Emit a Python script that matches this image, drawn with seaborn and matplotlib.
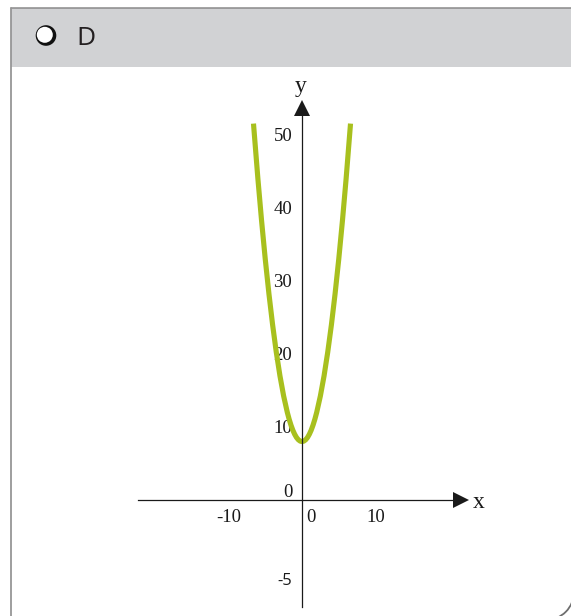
import numpy as np
import matplotlib
matplotlib.use("Agg")
import matplotlib.pyplot as plt
import seaborn as sns
from matplotlib.patches import Rectangle, Circle, Arc
from matplotlib.lines import Line2D

# Parabola sample points (x, y)
curve_x = [-6.6, -6.0, -5.5, -5.0, -4.5, -4.0, -3.5, -3.0, -2.5, -2.0, -1.75, -1.5,
           -1.25, -1.0, -0.75, -0.5, -0.25, 0.0, 0.25, 0.5, 0.75, 1.0, 1.25, 1.5,
           1.75, 2.0, 2.5, 3.0, 3.5, 4.0, 4.5, 5.0, 5.5, 6.0, 6.6]
curve_y = [51.56, 44.0, 38.25, 33.0, 28.25, 24.0, 20.25, 17.0, 14.25, 12.0, 11.06, 10.25,
           9.56, 9.0, 8.56, 8.25, 8.06, 8.0, 8.06, 8.25, 8.56, 9.0, 9.56, 10.25,
           11.06, 12.0, 14.25, 17.0, 20.25, 24.0, 28.25, 33.0, 38.25, 44.0, 51.56]

x_ticks = [-10, 10]
x_tick_labels = ["-10", "10"]
y_ticks = [-5, 10, 20, 30, 40, 50]
y_tick_labels = ["-5", "10", "20", "30", "40", "50"]
option_label = "D"

sns.set_style("white")
plt.rcParams["font.family"] = ["Liberation Serif", "DejaVu Serif"]

W, H = 5.71, 6.16
fig = plt.figure(figsize=(W, H), dpi=100)
T = fig.dpi_scale_trans

# answer-option card: grey header strip and frame
fig.add_artist(Rectangle((0.11, 5.49), 5.70, 0.59, transform=T,
                         fc="#d1d2d4", ec="none", zorder=0.5))
frame_color = "#969696"
fig.add_artist(Line2D([0.11, 5.80], [6.08, 6.08], transform=T,
                      color="#8a8a8a", lw=1.1, zorder=1))
fig.add_artist(Line2D([0.11, 0.11], [-0.05, 6.08], transform=T,
                      color=frame_color, lw=1.3, zorder=1))
fig.add_artist(Arc((5.46, 0.24), 0.56, 0.56, theta1=270, theta2=360,
                   transform=T, color="#6e6e6e", lw=1.3, zorder=1))

# radio button and option letter
fig.add_artist(Circle((0.46, 5.805), 0.103, transform=T, fc="#111111", ec="none", zorder=2))
fig.add_artist(Circle((0.448, 5.812), 0.080, transform=T, fc="white", ec="none", zorder=3))
fig.text(0.765, H - 0.45, option_label, transform=T, fontsize=19,
         family=["Open Sans", "DejaVu Sans"], color="#231f20",
         ha="left", va="baseline")

# coordinate plane
ax = fig.add_axes([138 / 571, 9 / 616, 315 / 571, 491 / 616])
ax.set_facecolor("none")


def fwd(v):
    v = np.asarray(v, dtype=float)
    return np.where(v < 0, v * 2.16, v)


def inv(v):
    v = np.asarray(v, dtype=float)
    return np.where(v < 0, v / 2.16, v)


ax.set_yscale("function", functions=(fwd, inv))
ax.set_xlim(-22.31, 20.54)
ax.set_ylim(-6.79, 52.6)

sns.lineplot(x=curve_x, y=curve_y, ax=ax, color="#a8c01e", lw=3.7,
             solid_capstyle="butt", estimator=None, sort=False, zorder=1.5)

for side in ("top", "right"):
    ax.spines[side].set_visible(False)
ax.spines["left"].set_position(("data", 0))
ax.spines["bottom"].set_position(("data", 0))
for side in ("left", "bottom"):
    ax.spines[side].set_color("#1a1a1a")
    ax.spines[side].set_linewidth(0.9)
    ax.spines[side].set_zorder(2.5)

ax.set_xticks(x_ticks)
ax.set_xticklabels(x_tick_labels)
ax.set_yticks(y_ticks)
ax.set_yticklabels(y_tick_labels)
ax.tick_params(axis="x", direction="out", length=3, width=0.9, pad=3.5,
               labelsize=13.5, colors="#1a1a1a")
ax.tick_params(axis="y", direction="out", length=4.5, width=0.9, pad=2.5,
               labelsize=13.5, colors="#1a1a1a")
for lab in ax.get_yticklabels():
    if lab.get_text() == "-5":
        lab.set_family(["Open Sans", "DejaVu Sans"])
        lab.set_fontsize(12)
ax.minorticks_off()
ax.set_xlabel("")
ax.set_ylabel("")

# arrowheads on both axes
ax.plot([1.024], [0], marker=">", ms=11, mew=0, color="#1a1a1a",
        transform=ax.get_yaxis_transform(), clip_on=False)
ax.plot([0], [1.017], marker="^", ms=11, mew=0, color="#1a1a1a",
        transform=ax.get_xaxis_transform(), clip_on=False)

# axis names and origin labels
fig.text(4.785, H - 5.08, "x", transform=T, fontsize=17, ha="center",
         va="baseline", color="#1a1a1a")
fig.text(3.005, H - 0.92, "y", transform=T, fontsize=17, ha="center",
         va="baseline", color="#1a1a1a")
fig.text(3.11, H - 5.225, "0", transform=T, fontsize=13.5, ha="center",
         va="baseline", color="#1a1a1a")
fig.text(2.88, H - 4.97, "0", transform=T, fontsize=13.5, ha="center",
         va="baseline", color="#1a1a1a")

fig.savefig("out.png", dpi=100)
